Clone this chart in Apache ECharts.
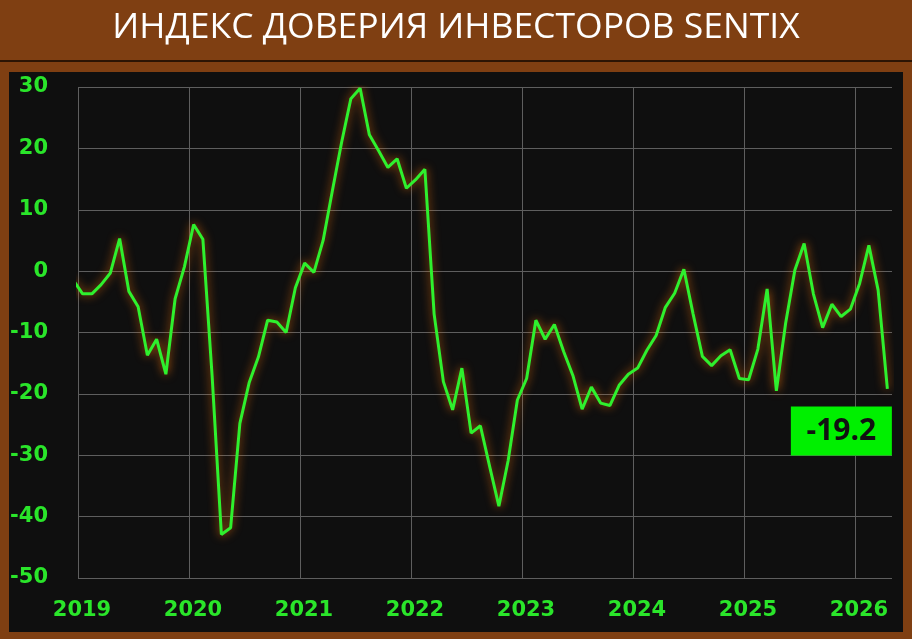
<!DOCTYPE html>
<html>
<head>
<meta charset="utf-8">
<script src="https://cdn.jsdelivr.net/npm/echarts@6/dist/echarts.min.js"></script>
<style>
html,body{margin:0;padding:0;background:#7f3f12;}
#chart{width:912px;height:639px;}
</style>
</head>
<body>
<div id="chart"></div>
<script>
// Sentix investor confidence index, monthly values
const titleText = 'ИНДЕКС ДОВЕРИЯ ИНВЕСТОРОВ SENTIX';
const yearLabels = [2019, 2020, 2021, 2022, 2023, 2024, 2025, 2026];
const dec2018 = [-1.5];
const v2019 = [-3.7, -3.7, -2.2, -0.3, 5.3, -3.3, -5.8, -13.7, -11.1, -16.8, -4.5, 0.7];
const v2020 = [7.6, 5.2, -17.1, -42.9, -41.8, -24.8, -18.2, -14.0, -8.0, -8.3, -10.0, -2.7];
const v2021 = [1.3, -0.2, 5.0, 13.1, 21.0, 28.1, 29.8, 22.2, 19.6, 16.9, 18.3, 13.5];
const v2022 = [14.9, 16.6, -7.0, -18.0, -22.6, -15.8, -26.4, -25.2, -31.8, -38.3, -30.9, -21.0];
const v2023 = [-17.5, -8.0, -11.1, -8.7, -13.1, -17.0, -22.5, -18.9, -21.5, -21.9, -18.6, -16.8];
const v2024 = [-15.8, -12.9, -10.5, -5.9, -3.6, 0.3, -7.0, -13.9, -15.4, -13.8, -12.8, -17.5];
const v2025 = [-17.7, -12.7, -2.9, -19.5, -8.5, 0.2, 4.5, -3.7, -9.2, -5.4, -7.4, -6.2];
const v2026 = [-2.0, 4.2, -3.1, -19.2];
const yTicks = {min: -50, max: 30, interval: 10};

const allValues = [].concat(dec2018, v2019, v2020, v2021, v2022, v2023, v2024, v2025, v2026);
// x position in months from Jan 1 2019; points sit mid-month
const seriesData = allValues.map((v, i) => [i - 1 + 0.5, v]);
const last = seriesData[seriesData.length - 1];

const green = '#2ae52a';
const chart = echarts.init(document.getElementById('chart'));
chart.setOption({
  backgroundColor: '#7f3f12',
  animation: false,
  graphic: [
    {type: 'rect', z: -10, shape: {x: 0, y: 60, width: 912, height: 2}, style: {fill: '#2b1404'}},
    {type: 'rect', z: -10, shape: {x: 9, y: 72, width: 894, height: 560}, style: {fill: '#0f0f0f'}}
  ],
  title: {
    text: titleText,
    left: 'center',
    top: 5,
    textStyle: {color: '#ffffff', fontFamily: 'Open Sans', fontWeight: 'normal', fontSize: 35.5}
  },
  grid: {left: 78, right: 20, top: 87, bottom: 61, containLabel: false},
  xAxis: {
    type: 'value',
    min: 0,
    max: 88,
    interval: 12,
    axisLine: {show: false},
    axisTick: {show: false},
    splitLine: {show: true, showMaxLine: false, lineStyle: {color: '#5e5e5e', width: 1}},
    axisLabel: {
      showMaxLabel: false,
      color: green,
      fontFamily: 'DejaVu Sans',
      fontWeight: 'bold',
      fontSize: 21,
      margin: 22,
      padding: [0, 0, 0, 8],
      formatter: v => (v % 12 === 0 ? String(yearLabels[v / 12]) : '')
    }
  },
  yAxis: {
    type: 'value',
    min: yTicks.min,
    max: yTicks.max,
    interval: yTicks.interval,
    axisLine: {show: false},
    axisTick: {show: false},
    splitLine: {show: true, lineStyle: {color: '#5e5e5e', width: 1}},
    axisLabel: {
      color: green,
      fontFamily: 'DejaVu Sans',
      fontWeight: 'bold',
      fontSize: 21,
      margin: 30
    }
  },
  series: [{
    type: 'line',
    data: seriesData,
    showSymbol: false,
    clip: true,
    lineStyle: {
      color: '#2ef02e',
      width: 3,
      shadowColor: 'rgba(230,110,10,0.85)',
      shadowBlur: 10
    },
    markPoint: {
      symbol: 'rect',
      symbolSize: [101, 49],
      symbolOffset: [-46, 42],
      itemStyle: {color: '#00f000'},
      label: {
        show: true,
        position: 'inside',
        color: '#111111',
        fontFamily: 'Open Sans',
        fontWeight: 'bold',
        fontSize: 30,
        formatter: p => String(p.value)
      },
      data: [{coord: last, value: last[1]}]
    }
  }]
});
</script>
</body>
</html>
